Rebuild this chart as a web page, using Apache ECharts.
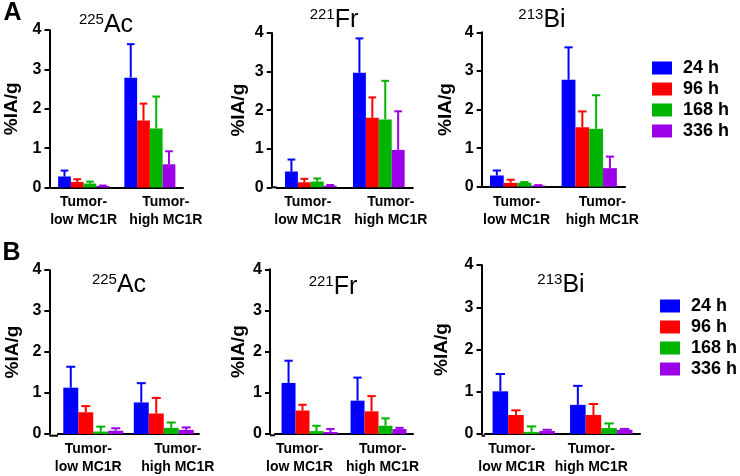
<!DOCTYPE html>
<html>
  <head>
    <meta charset="utf-8" />
    <title>biodistribution</title>
    <script src="https://cdn.jsdelivr.net/npm/echarts@6/dist/echarts.min.js"></script>
    <style>
      body { margin: 0; background: #fff; }
      #main { width: 740px; height: 476px; }
    </style>
  </head>
  <body>
    <div id="main"></div>
    <script>
      // groups on the x axis and the four time points
      var groupLabels = ['Tumor-\nlow MC1R', 'Tumor-\nhigh MC1R'];
      var timeLabels = ['24 h', '96 h', '168 h', '336 h'];
      var timeColors = ['#0000ff', '#ff0000', '#00b400', '#9b00e6'];

      // rows = time point, columns = [tumor-low, tumor-high]; upper = top of error bar
      // panel A
      var acA_mean  = [[0.28, 2.79], [0.14, 1.70], [0.10, 1.50], [0.04, 0.59]];
      var acA_upper = [[0.43, 3.64], [0.21, 2.13], [0.15, 2.31], [0.05, 0.92]];
      var frA_mean  = [[0.41, 2.97], [0.13, 1.80], [0.15, 1.76], [0.04, 0.97]];
      var frA_upper = [[0.72, 3.86], [0.22, 2.33], [0.23, 2.76], [0.06, 1.97]];
      var biA_mean  = [[0.29, 2.77], [0.10, 1.54], [0.10, 1.50], [0.03, 0.48]];
      var biA_upper = [[0.42, 3.61], [0.18, 1.95], [0.12, 2.37], [0.04, 0.78]];
      // panel B
      var acB_mean  = [[1.13, 0.77], [0.53, 0.50], [0.06, 0.15], [0.08, 0.10]];
      var acB_upper = [[1.64, 1.24], [0.68, 0.88], [0.18, 0.28], [0.14, 0.16]];
      var frB_mean  = [[1.24, 0.81], [0.57, 0.55], [0.07, 0.20], [0.05, 0.12]];
      var frB_upper = [[1.78, 1.37], [0.71, 0.92], [0.20, 0.38], [0.12, 0.15]];
      var biB_mean  = [[1.01, 0.69], [0.45, 0.45], [0.05, 0.14], [0.07, 0.10]];
      var biB_upper = [[1.42, 1.14], [0.56, 0.71], [0.18, 0.25], [0.10, 0.12]];

      var FONT = 'Liberation Sans';

      // layout of the six small plots (shift = x offset of each group label)
      var panels = [
        { mean: acA_mean, upper: acA_upper, mass: '225', el: 'Ac', ax: 49.5, left: 50.5, top: 30, width: 132.5, height: 157.5, gap: 0.23, nameGap: 28, tx: 106, ty: 25, shift: [0, 16] },
        { mean: frA_mean, upper: frA_upper, mass: '221', el: 'Fr', ax: 271.7, left: 276.8, top: 33, width: 136, height: 154.3, gap: 0.24, nameGap: 23, tx: 334, ty: 20, shift: [-3, 12] },
        { mean: biA_mean, upper: biA_upper, mass: '213', el: 'Bi', ax: 481.7, left: 481.7, top: 32.3, width: 143.4, height: 154.4, gap: 0.23, nameGap: 26, tx: 542, ty: 20, shift: [-1, 13] },
        { mean: acB_mean, upper: acB_upper, mass: '225', el: 'Ac', ax: 49.3, left: 58, top: 270, width: 141, height: 165.7, gap: 0.15, nameGap: 27, tx: 119, ty: 285, shift: [-5, 14] },
        { mean: frB_mean, upper: frB_upper, mass: '221', el: 'Fr', ax: 270, left: 275, top: 269.3, width: 138, height: 166, gap: 0.19, nameGap: 22, tx: 333, ty: 287, shift: [-10, 4] },
        { mean: biB_mean, upper: biB_upper, mass: '213', el: 'Bi', ax: 481.5, left: 485, top: 265, width: 155, height: 170.7, gap: 0.195, nameGap: 30, tx: 561, ty: 285, shift: [-12, -10] }
      ];

      // upper error bar with a cap, placed over bar k of the group
      function errRender(k, gapF, color) {
        return function (params, api) {
          var cat = api.value(0);
          var base = api.coord([cat, api.value(1)]);
          var top = api.coord([cat, api.value(2)]);
          var band = api.size([1, 0])[0];
          var bw = band * (1 - gapF) / 4;
          var x = base[0] + (k - 1.5) * bw;
          var cap = bw * 0.6;
          var st = { stroke: color, lineWidth: 2 };
          return {
            type: 'group',
            children: [
              { type: 'line', shape: { x1: x, y1: base[1], x2: x, y2: top[1] }, style: st },
              { type: 'line', shape: { x1: x - cap / 2, y1: top[1], x2: x + cap / 2, y2: top[1] }, style: st }
            ]
          };
        };
      }

      // move a centred label sideways by d px using padding
      function shiftedLabel(text, d) {
        var pad = d >= 0 ? [0, 0, 0, 2 * d] : [0, -2 * d, 0, 0];
        return { value: text, textStyle: { padding: pad } };
      }

      var grids = [], xAxes = [], yAxes = [], series = [], graphics = [];

      panels.forEach(function (p, pi) {
        grids.push({ left: p.left, top: p.top, width: p.width, height: p.height });
        xAxes.push({
          type: 'category', gridIndex: pi,
          data: groupLabels.map(function (g, i) { return shiftedLabel(g, p.shift[i]); }),
          axisLine: { lineStyle: { color: '#000', width: 2 } },
          axisTick: { alignWithLabel: true, length: 4, lineStyle: { color: '#000', width: 2 } },
          axisLabel: { interval: 0, margin: 6, color: '#000', fontFamily: FONT, fontWeight: 'bold', fontSize: 14, lineHeight: 18 }
        });
        yAxes.push({
          type: 'value', gridIndex: pi, min: 0, max: 4, interval: 1,
          offset: p.left - p.ax,
          name: '%IA/g', nameLocation: 'middle', nameGap: p.nameGap,
          nameTextStyle: { color: '#000', fontFamily: FONT, fontWeight: 'bold', fontSize: 19 },
          axisLine: { show: true, lineStyle: { color: '#000', width: 2 } },
          axisTick: { show: true, length: 5, lineStyle: { color: '#000', width: 2 } },
          splitLine: { show: false },
          axisLabel: { margin: 8, color: '#000', fontFamily: FONT, fontWeight: 'bold', fontSize: 16 }
        });

        timeLabels.forEach(function (t, k) {
          series.push({
            type: 'bar', name: t, xAxisIndex: pi, yAxisIndex: pi,
            data: p.mean[k], barGap: '0%', barCategoryGap: (p.gap * 100) + '%',
            itemStyle: { color: timeColors[k] }, silent: true
          });
        });
        timeLabels.forEach(function (t, k) {
          series.push({
            type: 'custom', xAxisIndex: pi, yAxisIndex: pi, z: 3, silent: true,
            data: [[0, p.mean[k][0], p.upper[k][0]], [1, p.mean[k][1], p.upper[k][1]]],
            encode: { x: 0, y: [1, 2] },
            renderItem: errRender(k, p.gap, timeColors[k])
          });
        });

        // isotope title with superscript mass number
        graphics.push({
          type: 'text', x: p.tx, y: p.ty,
          style: {
            text: '{s|' + p.mass + '}{m|' + p.el + '}',
            align: 'center', verticalAlign: 'middle',
            rich: {
              s: { fontFamily: FONT, fontSize: 15, fill: '#000', verticalAlign: 'top' },
              m: { fontFamily: FONT, fontSize: 25, fill: '#000' }
            }
          }
        });
        // close the x axis up to the y axis
        if (p.left > p.ax) {
          graphics.push({
            type: 'line',
            shape: { x1: p.ax, y1: p.top + p.height, x2: p.left, y2: p.top + p.height },
            style: { stroke: '#000', lineWidth: 2 }
          });
        }
      });

      graphics.push({ type: 'text', x: 12.5, y: 13.5, style: { text: 'A', align: 'center', verticalAlign: 'middle', font: 'bold 25px "Liberation Sans"', fill: '#000' } });
      graphics.push({ type: 'text', x: 11.5, y: 253.5, style: { text: 'B', align: 'center', verticalAlign: 'middle', font: 'bold 25px "Liberation Sans"', fill: '#000' } });

      var legendBase = {
        orient: 'vertical', data: timeLabels, selectedMode: false, padding: 0,
        icon: 'rect', itemWidth: 20, itemHeight: 13, itemGap: 3,
        textStyle: { color: '#000', fontFamily: FONT, fontWeight: 'bold', fontSize: 18, lineHeight: 18, padding: [0, 0, 0, 6] }
      };

      var chart = echarts.init(document.getElementById('main'));
      chart.setOption({
        animation: false,
        backgroundColor: '#fff',
        grid: grids,
        xAxis: xAxes,
        yAxis: yAxes,
        legend: [
          Object.assign({ left: 652, top: 59 }, legendBase),
          Object.assign({ left: 660, top: 297 }, legendBase)
        ],
        series: series,
        graphic: graphics
      });
    </script>
  </body>
</html>
